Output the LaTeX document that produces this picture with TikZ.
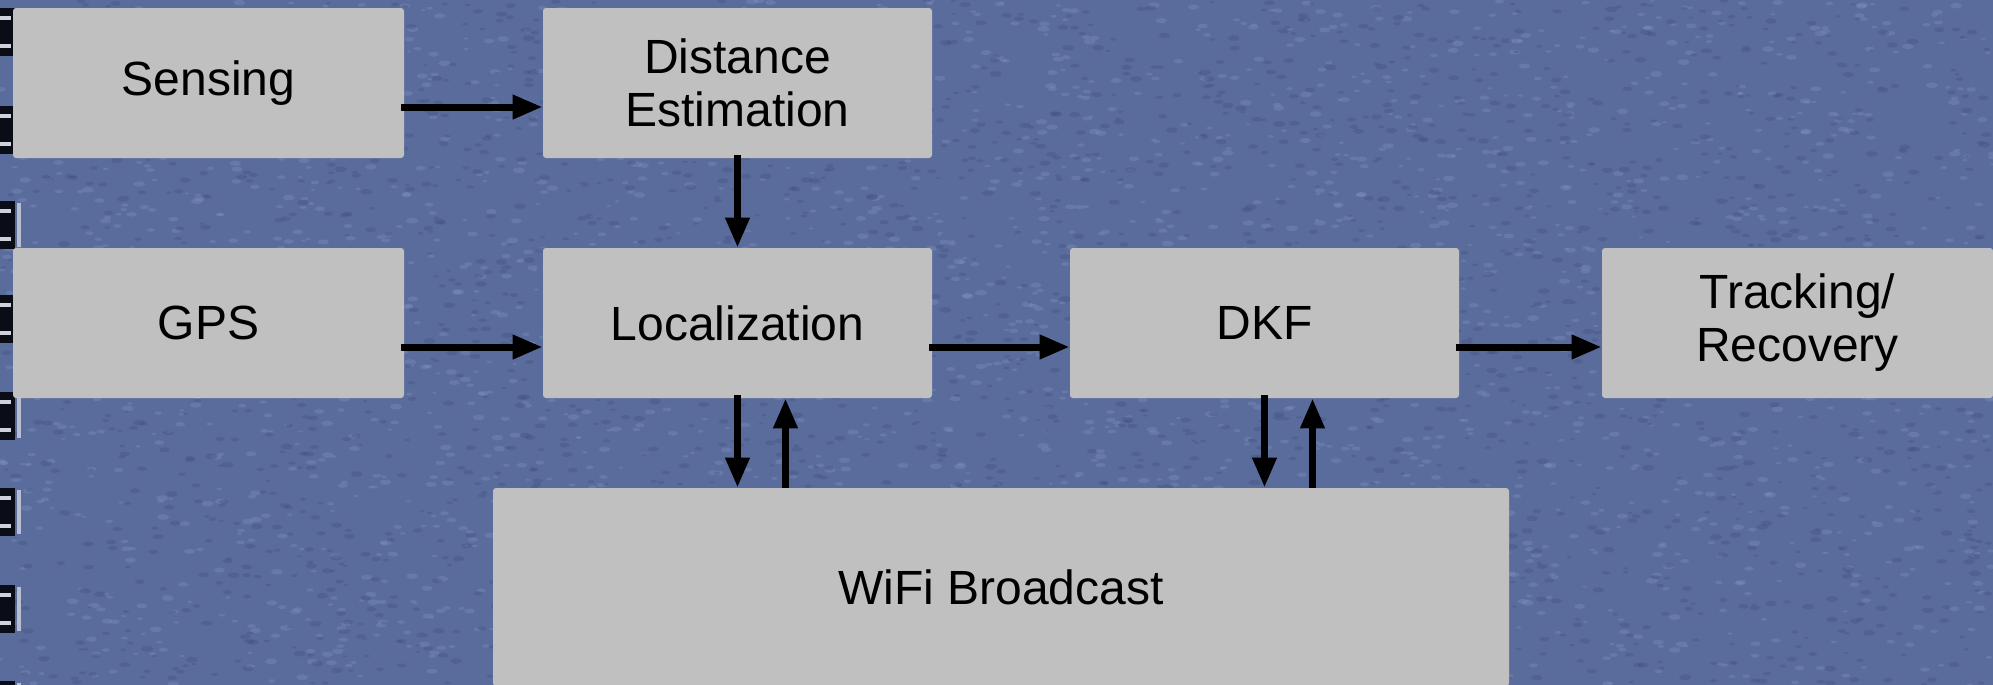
\documentclass[tikz,border=0pt]{standalone}
\usepackage{fontspec}
\setmainfont{Liberation Sans}
\usetikzlibrary{arrows.meta,calc}

\definecolor{denim}{RGB}{90,108,156}
\definecolor{denimlight}{RGB}{132,152,198}
\definecolor{denimdark}{RGB}{62,74,118}
\definecolor{boxgray}{RGB}{192,192,192}
\definecolor{ringdark}{RGB}{10,12,22}
\definecolor{ringlight}{RGB}{205,210,220}

\tikzset{
  block/.style={fill=boxgray, rounded corners=1.5pt, inner sep=0pt,
    minimum width=195.5pt, minimum height=75pt, align=center,
    font=\fontsize{24}{26.5}\selectfont},
  flow/.style={line width=3.5pt, -{Triangle[width=11.5pt,length=15pt]}},
}

\begin{document}
\begin{tikzpicture}[x=0.5pt, y=-0.5pt]
  % canvas: 1993 x 685 units
  \useasboundingbox (0,0) rectangle (1993,685);
  \clip (0,0) rectangle (1993,685);
  \fill[denim] (0,0) rectangle (1993,685);

  % fine cloth grain: small light and dark flecks
  \pgfmathsetseed{7}
  \foreach \i in {1,...,2600} {
    \pgfmathsetmacro{\px}{rnd*1993}
    \pgfmathsetmacro{\py}{rnd*685}
    \pgfmathsetmacro{\pr}{1+rnd*1.8}
    \fill[denimlight, opacity=0.3] (\px,\py) ellipse[x radius=\pr*2.2, y radius=\pr];
  }
  \foreach \i in {1,...,2600} {
    \pgfmathsetmacro{\px}{rnd*1993}
    \pgfmathsetmacro{\py}{rnd*685}
    \pgfmathsetmacro{\pr}{1+rnd*1.8}
    \fill[denimdark, opacity=0.3] (\px,\py) ellipse[x radius=\pr*2.2, y radius=\pr];
  }

  % binder rings along the left edge
  \foreach \c in {32,130,225,319,416,512,609,705} {
    \fill[ringdark] (0,\c-24) rectangle (15,\c+24);
    \fill[ringlight] (0,\c-16) rectangle (11,\c-12);
    \fill[ringlight] (0,\c+12) rectangle (11,\c+16);
    \fill[ringlight!80!denim] (17,\c-22) rectangle (21,\c+22);
  }

  % blocks
  \node[block] (sense) at (208.5,83) {Sensing};
  \node[block, minimum width=194.5pt] (dist) at (737.5,83) {Distance\\Estimation};
  \node[block] (gps) at (208.5,323) {GPS};
  \node[block, minimum width=194.5pt] (loc) at (737.5,323) {Localization};
  \node[block, minimum width=194.5pt] (dkf) at (1264.5,323) {DKF};
  \node[block] (track) at (1797.5,323) {Tracking/\\Recovery};
  \node[block, minimum width=508pt, minimum height=99pt] (wifi) at (1001,587) {WiFi Broadcast};

  % return paths from the broadcast block sit beside the outgoing ones
  \coordinate (locret) at ($(loc.south)+(48,0)$);
  \coordinate (dkfret) at ($(dkf.south)+(48,0)$);

  % horizontal flow, running a little below the block centres
  \draw[flow] ($(sense.east)+(-3,24)$) -- ($(dist.west)+(0,24)$);
  \draw[flow] ($(gps.east)+(-3,24)$) -- ($(loc.west)+(0,24)$);
  \draw[flow] ($(loc.east)+(-3,24)$) -- ($(dkf.west)+(0,24)$);
  \draw[flow] ($(dkf.east)+(-3,24)$) -- ($(track.west)+(0,24)$);

  % vertical flow
  \draw[flow] ($(dist.south)+(0,-3)$) -- (loc.north);
  \draw[flow] ($(loc.south)+(0,-3)$) -- (loc.south |- wifi.north);
  \draw[flow] (locret |- wifi.north) -- (locret);
  \draw[flow] ($(dkf.south)+(0,-3)$) -- (dkf.south |- wifi.north);
  \draw[flow] (dkfret |- wifi.north) -- (dkfret);
\end{tikzpicture}
\end{document}
